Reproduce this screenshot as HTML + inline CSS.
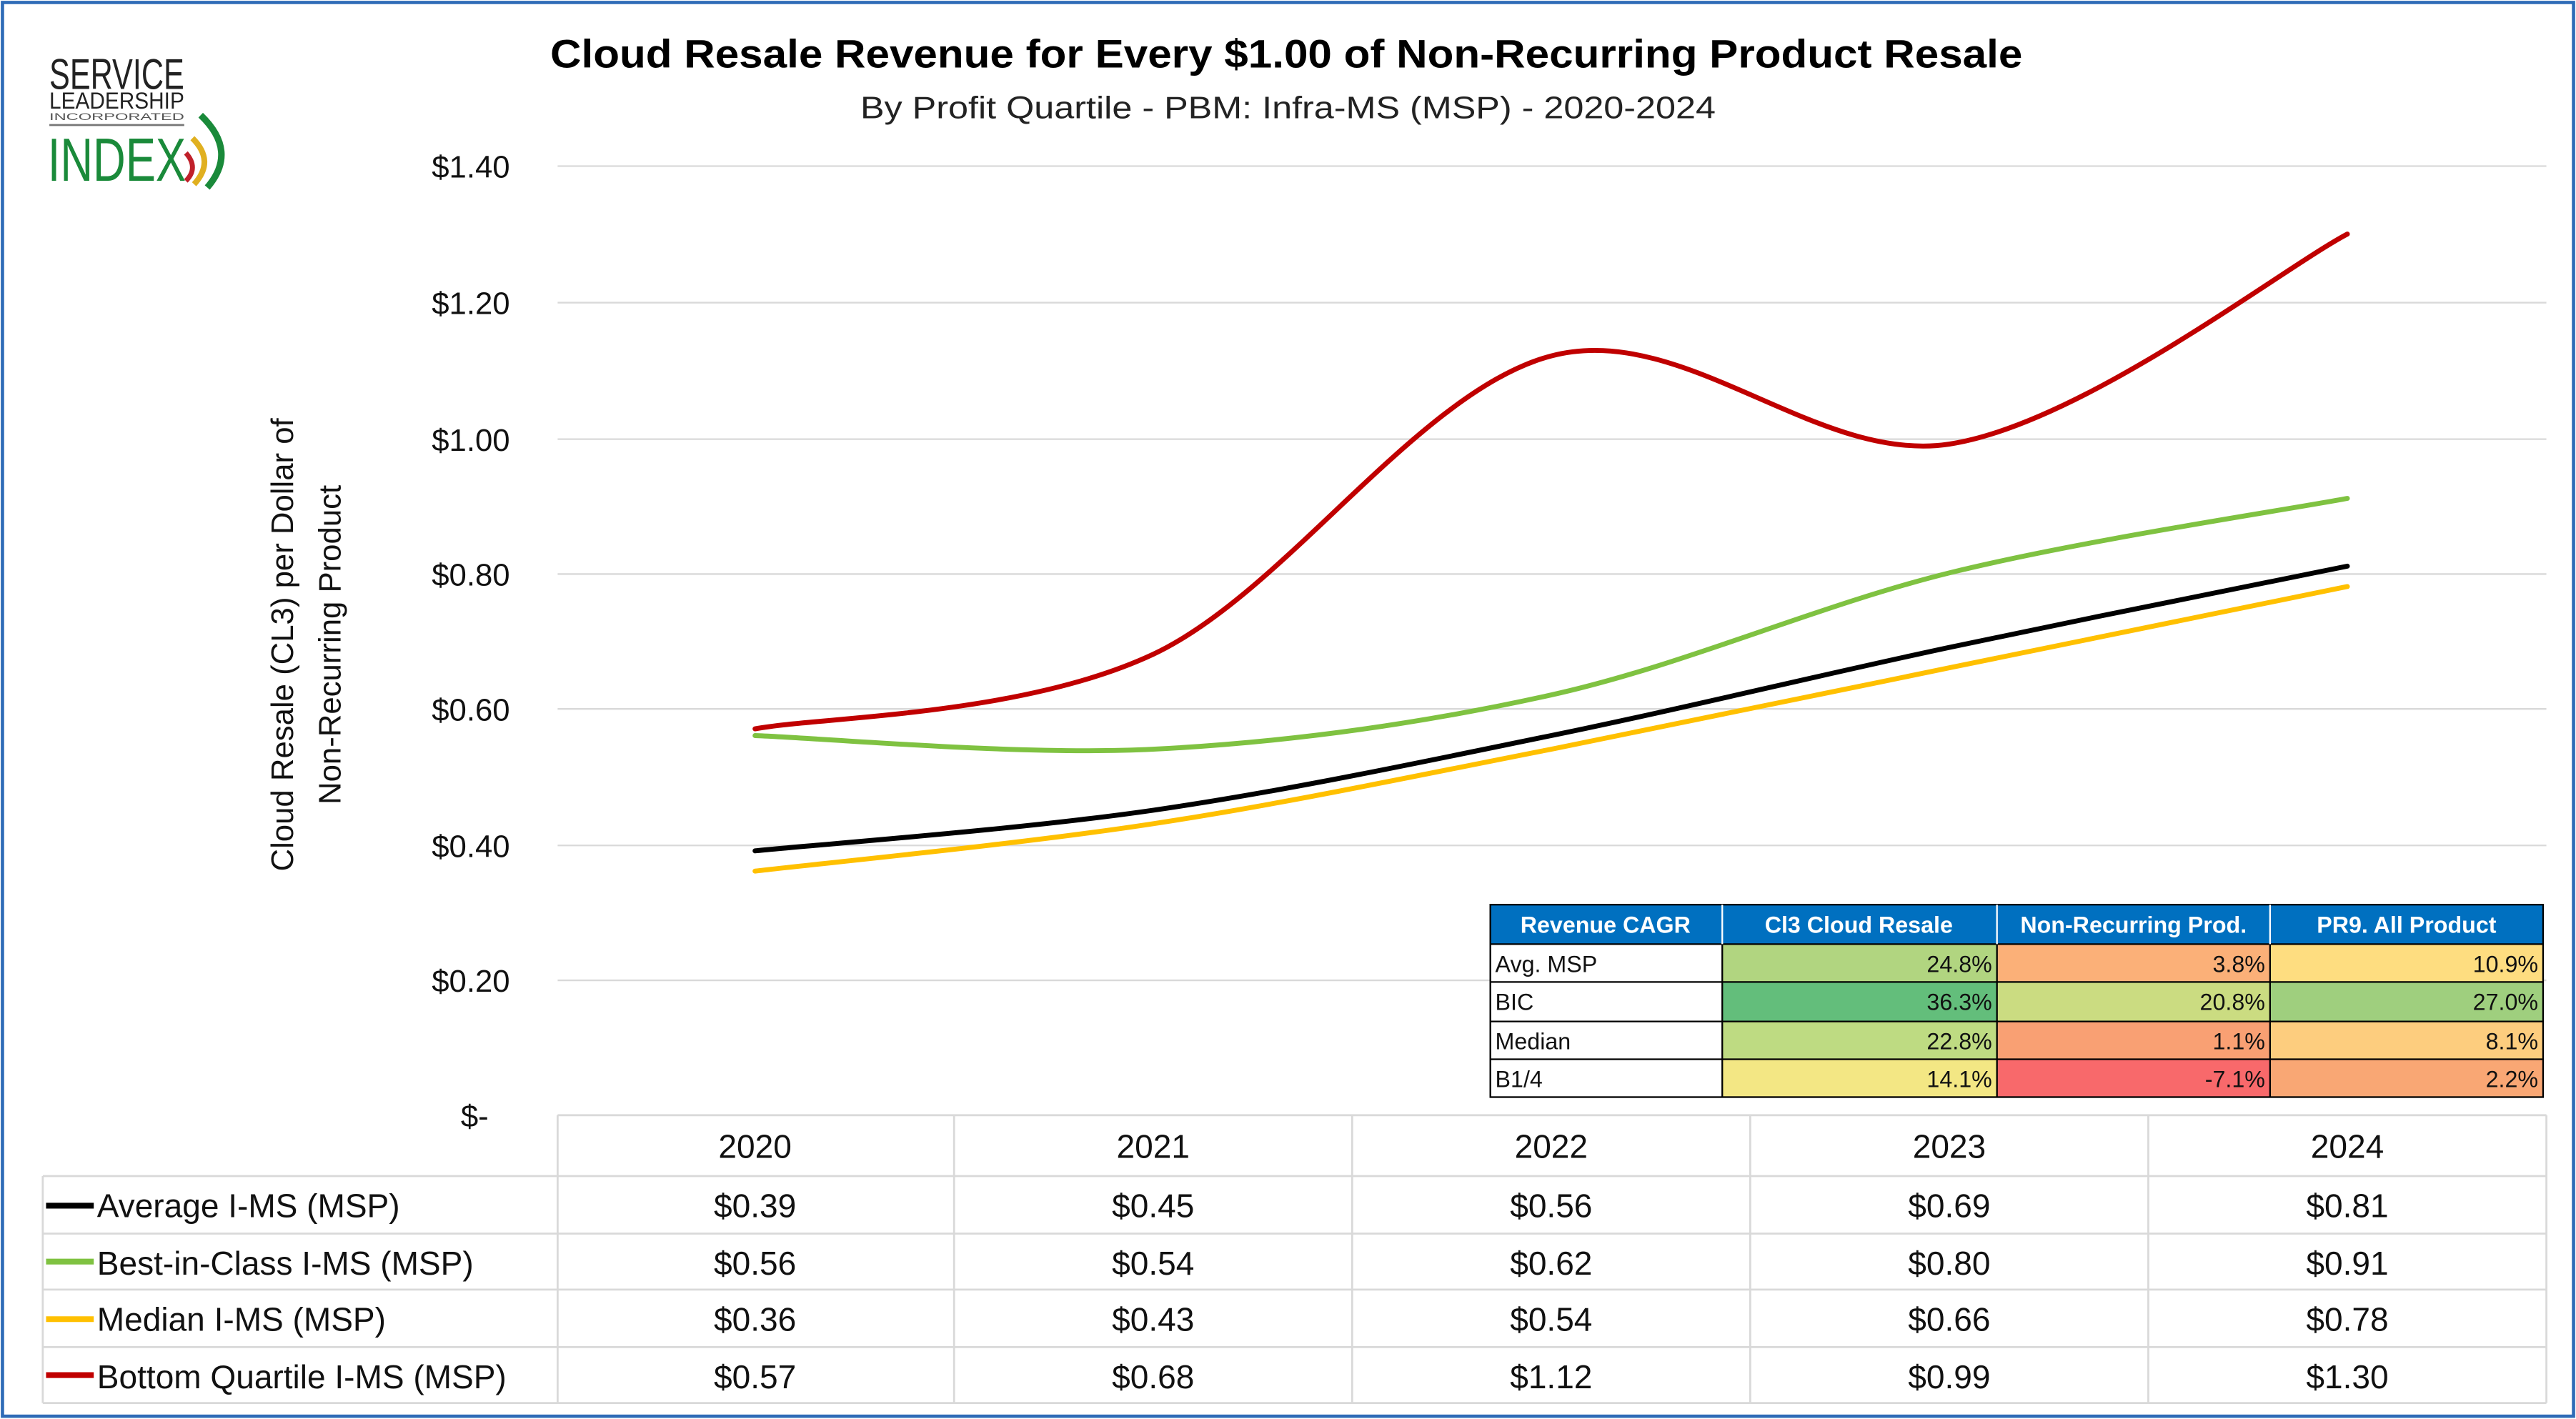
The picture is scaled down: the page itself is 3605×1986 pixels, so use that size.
<!DOCTYPE html>
<html><head><meta charset="utf-8"><style>
html,body{margin:0;padding:0;background:#fff}
svg{display:block}
text{font-family:"Liberation Sans",sans-serif}
</style></head><body>
<svg width="3605" height="1986" viewBox="0 0 1566 862.7" preserveAspectRatio="none" xmlns="http://www.w3.org/2000/svg">
<rect x="0" y="0" width="1566" height="862.7" fill="#fff"/>
<rect x="1.5" y="1.5" width="1563" height="859.5" fill="none" stroke="#2e6bb7" stroke-width="2"/>
<!-- logo -->
<text x="30" y="54" font-size="26" textLength="82" lengthAdjust="spacingAndGlyphs" fill="#222">SERVICE</text>
<text x="30" y="66" font-size="14" textLength="82" lengthAdjust="spacingAndGlyphs" fill="#222">LEADERSHIP</text>
<text x="30" y="73" font-size="6" textLength="82" lengthAdjust="spacingAndGlyphs" fill="#555">INCORPORATED</text>
<line x1="30" y1="76" x2="112" y2="76" stroke="#777" stroke-width="1.2"/>
<text x="29" y="110" font-size="37" textLength="84" lengthAdjust="spacingAndGlyphs" fill="#1a8a3a">INDEX</text>
<path d="M122 70 Q145 92 126 114" fill="none" stroke="#1a8a3a" stroke-width="4"/>
<path d="M117 84 Q131 98 118 112" fill="none" stroke="#e0b020" stroke-width="3.5"/>
<path d="M113 93 Q121 102 113 110" fill="none" stroke="#c0202a" stroke-width="3"/>
<!-- title -->
<text x="782" y="41" font-size="24" font-weight="bold" text-anchor="middle" textLength="895" lengthAdjust="spacingAndGlyphs" fill="#000">Cloud Resale Revenue for Every $1.00 of Non-Recurring Product Resale</text>
<text x="783" y="72" font-size="19" text-anchor="middle" textLength="520" lengthAdjust="spacingAndGlyphs" fill="#222">By Profit Quartile - PBM: Infra-MS (MSP) - 2020-2024</text>
<!-- gridlines -->
<g stroke="#d9d9d9" stroke-width="1">
<line x1="339" y1="101" x2="1548" y2="101"/><line x1="339" y1="184" x2="1548" y2="184"/>
<line x1="339" y1="267" x2="1548" y2="267"/><line x1="339" y1="349" x2="1548" y2="349"/>
<line x1="339" y1="431" x2="1548" y2="431"/><line x1="339" y1="514" x2="1548" y2="514"/>
<line x1="339" y1="596" x2="1548" y2="596"/>
</g>
<g font-size="19" text-anchor="end" fill="#111">
<text x="310" y="108">$1.40</text><text x="310" y="191">$1.20</text><text x="310" y="274">$1.00</text>
<text x="310" y="356">$0.80</text><text x="310" y="438">$0.60</text><text x="310" y="521">$0.40</text>
<text x="310" y="603">$0.20</text><text x="297" y="685">$-</text>
</g>
<g font-size="19" text-anchor="middle" fill="#111">
<text transform="translate(178,392) rotate(-90)">Cloud Resale (CL3) per Dollar of</text>
<text transform="translate(207,392) rotate(-90)">Non-Recurring Product</text>
</g>
<g fill="none" stroke-width="3" stroke-linecap="round">
<path stroke="#000" d="M459 517.3 C499.3 513.2 620.3 504.3 701 492.6 C781.7 480.9 862.3 463.7 943 447.2 C1023.7 430.7 1104.3 410.8 1185 393.6 C1265.7 376.4 1386.7 352.4 1427 344.2"/>
<path stroke="#7fc241" d="M459 447.2 C499.3 448.6 620.3 459.6 701 455.5 C781.7 451.4 862.3 440.4 943 422.5 C1023.7 404.6 1104.3 368.2 1185 348.3 C1265.7 328.4 1386.7 310.6 1427 303"/>
<path stroke="#ffc000" d="M459 529.6 C499.3 524.8 620.3 513.2 701 500.8 C781.7 488.5 862.3 471.3 943 455.5 C1023.7 439.7 1104.3 422.5 1185 406 C1265.7 389.5 1386.7 364.8 1427 356.6"/>
<path stroke="#c00000" d="M459 443.1 C499.3 435.6 620.3 435.6 701 397.8 C781.7 360 862.3 237.7 943 216.4 C1023.7 195.1 1104.3 282.4 1185 270 C1265.7 257.7 1386.7 163.6 1427 142.3"/>
</g>
<!-- data table -->
<g stroke="#d9d9d9" stroke-width="1.2" fill="none">
<line x1="339" y1="678" x2="1548" y2="678"/>
<line x1="26" y1="715" x2="1548" y2="715"/><line x1="26" y1="750" x2="1548" y2="750"/>
<line x1="26" y1="784" x2="1548" y2="784"/><line x1="26" y1="819" x2="1548" y2="819"/>
<line x1="26" y1="853" x2="1548" y2="853"/>
<line x1="26" y1="715" x2="26" y2="853"/>
<line x1="339" y1="678" x2="339" y2="853"/><line x1="580" y1="678" x2="580" y2="853"/>
<line x1="822" y1="678" x2="822" y2="853"/><line x1="1064" y1="678" x2="1064" y2="853"/>
<line x1="1306" y1="678" x2="1306" y2="853"/><line x1="1548" y1="678" x2="1548" y2="853"/>
</g>
<g font-size="20" text-anchor="middle" fill="#111">
<text x="459" y="704">2020</text><text x="701" y="704">2021</text><text x="943" y="704">2022</text><text x="1185" y="704">2023</text><text x="1427" y="704">2024</text>
<text x="459" y="740">$0.39</text><text x="701" y="740">$0.45</text><text x="943" y="740">$0.56</text><text x="1185" y="740">$0.69</text><text x="1427" y="740">$0.81</text>
<text x="459" y="775">$0.56</text><text x="701" y="775">$0.54</text><text x="943" y="775">$0.62</text><text x="1185" y="775">$0.80</text><text x="1427" y="775">$0.91</text>
<text x="459" y="809">$0.36</text><text x="701" y="809">$0.43</text><text x="943" y="809">$0.54</text><text x="1185" y="809">$0.66</text><text x="1427" y="809">$0.78</text>
<text x="459" y="844">$0.57</text><text x="701" y="844">$0.68</text><text x="943" y="844">$1.12</text><text x="1185" y="844">$0.99</text><text x="1427" y="844">$1.30</text>
</g>
<g stroke-width="3.5">
<line x1="28" y1="733" x2="57" y2="733" stroke="#000"/>
<line x1="28" y1="767" x2="57" y2="767" stroke="#7fc241"/>
<line x1="28" y1="802" x2="57" y2="802" stroke="#ffc000"/>
<line x1="28" y1="836" x2="57" y2="836" stroke="#c00000"/>
</g>
<g font-size="20" fill="#111">
<text x="59" y="740">Average I-MS (MSP)</text>
<text x="59" y="775">Best-in-Class I-MS (MSP)</text>
<text x="59" y="809">Median I-MS (MSP)</text>
<text x="59" y="844">Bottom Quartile I-MS (MSP)</text>
</g>
<!-- CAGR table -->
<g>
<rect x="906" y="550" width="640" height="24" fill="#0070c0"/>
<rect x="906" y="574" width="141" height="93" fill="#fff"/>
<rect x="1047" y="574" width="167" height="23" fill="#b1d580"/>
<rect x="1214" y="574" width="166" height="23" fill="#fbb078"/>
<rect x="1380" y="574" width="166" height="23" fill="#fedd80"/>
<rect x="1047" y="597" width="167" height="24" fill="#63be7b"/>
<rect x="1214" y="597" width="166" height="24" fill="#cbdc81"/>
<rect x="1380" y="597" width="166" height="24" fill="#9fcf7e"/>
<rect x="1047" y="621" width="167" height="23" fill="#bedb82"/>
<rect x="1214" y="621" width="166" height="23" fill="#f9a073"/>
<rect x="1380" y="621" width="166" height="23" fill="#fdcd7e"/>
<rect x="1047" y="644" width="167" height="23" fill="#f3e784"/>
<rect x="1214" y="644" width="166" height="23" fill="#f8696b"/>
<rect x="1380" y="644" width="166" height="23" fill="#f9a774"/>
<g stroke="#000" stroke-width="1">
<rect x="906" y="550" width="640" height="117" fill="none"/>
<line x1="906" y1="574" x2="1546" y2="574"/><line x1="906" y1="597" x2="1546" y2="597"/>
<line x1="906" y1="621" x2="1546" y2="621"/><line x1="906" y1="644" x2="1546" y2="644"/>
<line x1="1047" y1="574" x2="1047" y2="667"/><line x1="1214" y1="574" x2="1214" y2="667"/><line x1="1380" y1="574" x2="1380" y2="667"/>
</g>
<g stroke="#fff" stroke-width="1"><line x1="1047" y1="550" x2="1047" y2="574"/><line x1="1214" y1="550" x2="1214" y2="574"/><line x1="1380" y1="550" x2="1380" y2="574"/></g>
<g font-size="14" font-weight="bold" fill="#fff" text-anchor="middle">
<text x="976" y="567">Revenue CAGR</text><text x="1130" y="567">Cl3 Cloud Resale</text>
<text x="1297" y="567">Non-Recurring Prod.</text><text x="1463" y="567">PR9. All Product</text>
</g>
<g font-size="14" fill="#111">
<text x="909" y="591">Avg. MSP</text><text x="909" y="614">BIC</text><text x="909" y="638">Median</text><text x="909" y="661">B1/4</text>
</g>
<g font-size="14" fill="#111" text-anchor="end">
<text x="1211" y="591">24.8%</text><text x="1377" y="591">3.8%</text><text x="1543" y="591">10.9%</text>
<text x="1211" y="614">36.3%</text><text x="1377" y="614">20.8%</text><text x="1543" y="614">27.0%</text>
<text x="1211" y="638">22.8%</text><text x="1377" y="638">1.1%</text><text x="1543" y="638">8.1%</text>
<text x="1211" y="661">14.1%</text><text x="1377" y="661">-7.1%</text><text x="1543" y="661">2.2%</text>
</g>
</g>
</svg>
</body></html>
